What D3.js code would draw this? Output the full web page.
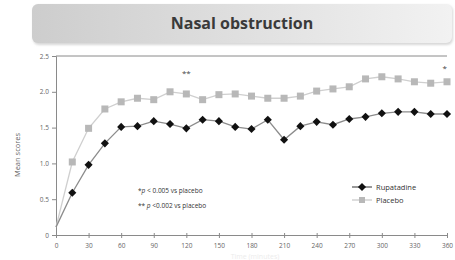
<!DOCTYPE html>
<html>
<head>
<meta charset="utf-8">
<script src="https://cdn.jsdelivr.net/npm/d3@7"></script>
<style>
  html, body { margin: 0; padding: 0; background: #fff; }
  svg { display: block; font-family: "Open Sans", "DejaVu Sans", sans-serif; }
</style>
</head>
<body>
<svg id="chart" width="455" height="260"></svg>
<script>
// time points (minutes)
const minutes = [0, 15, 30, 45, 60, 75, 90, 105, 120, 135, 150, 165, 180, 195, 210, 225, 240, 255, 270, 285, 300, 315, 330, 345, 360];
const rupatadine = [0.11, 0.59, 0.98, 1.28, 1.51, 1.52, 1.59, 1.55, 1.49, 1.61, 1.59, 1.51, 1.48, 1.61, 1.33, 1.52, 1.58, 1.54, 1.62, 1.65, 1.70, 1.72, 1.72, 1.69, 1.69];
const placebo = [0.11, 1.02, 1.49, 1.76, 1.86, 1.91, 1.89, 2.00, 1.97, 1.89, 1.96, 1.97, 1.94, 1.91, 1.91, 1.94, 2.01, 2.04, 2.07, 2.18, 2.21, 2.18, 2.14, 2.12, 2.14];
const xTicks = [0, 30, 60, 90, 120, 150, 180, 210, 240, 270, 300, 330, 360];
const yTicks = [0, 0.5, 1.0, 1.5, 2.0, 2.5];
const stars = [{ t: 120, v: 2.22, label: '**' }, { t: 358, v: 2.29, label: '*' }];

const svg = d3.select('#chart');
const margin = { top: 56, right: 8, bottom: 25, left: 56 };
const W = 455, H = 260;

// title banner
const defs = svg.append('defs');
const grad = defs.append('linearGradient').attr('id', 'banner').attr('x1', 0).attr('x2', 1);
grad.append('stop').attr('offset', 0).attr('stop-color', '#cdcdcd');
grad.append('stop').attr('offset', 1).attr('stop-color', '#f2f2f2');
const shadow = defs.append('filter').attr('id', 'soft');
shadow.append('feGaussianBlur').attr('stdDeviation', 1.2);

svg.append('rect').attr('x', 33).attr('y', 5).attr('width', 420).attr('height', 40)
  .attr('rx', 6).attr('fill', '#d8d8d8').attr('filter', 'url(#soft)');
svg.append('rect').attr('x', 32).attr('y', 4).attr('width', 420).attr('height', 39)
  .attr('rx', 6).attr('fill', 'url(#banner)');
svg.append('text').attr('x', 242).attr('y', 29).attr('text-anchor', 'middle')
  .attr('font-size', 16).attr('font-weight', 'bold').attr('fill', '#3a3a3a')
  .text('Nasal obstruction');

const x = d3.scaleLinear().domain([0, 360]).range([margin.left, W - margin.right]);
const y = d3.scaleLinear().domain([0, 2.5]).range([H - margin.bottom, margin.top]);

const xAxis = svg.append('g').attr('transform', `translate(0,${y(0)})`)
  .call(d3.axisBottom(x).tickValues(xTicks).tickSize(3).tickPadding(5));
xAxis.selectAll('.tick line').attr('y1', -2);
const yAxis = svg.append('g').attr('transform', `translate(${x(0)},0)`)
  .call(d3.axisLeft(y).tickValues(yTicks).tickSize(4).tickPadding(3)
    .tickFormat(d => d === 0 ? '0' : d3.format('.1f')(d)));

[xAxis, yAxis].forEach(a => {
  a.select('.domain').attr('stroke', '#8a8a8a');
  a.selectAll('.tick line').attr('stroke', '#8a8a8a');
  a.selectAll('.tick text').attr('fill', '#666').attr('font-size', 6.5)
    .attr('font-family', '"Open Sans", sans-serif');
});

// top frame line
svg.append('line').attr('x1', x(0)).attr('x2', x(360)).attr('y1', y(2.5)).attr('y2', y(2.5))
  .attr('stroke', '#8a8a8a');

svg.append('text').attr('transform', `translate(20,155) rotate(-90)`)
  .attr('text-anchor', 'middle').attr('font-size', 7.5).attr('fill', '#666')
  .text('Mean scores');
svg.append('text').attr('x', 255).attr('y', 259).attr('text-anchor', 'middle')
  .attr('font-size', 7).attr('fill', '#ececec').text('Time (minutes)');

const line = d3.line().x(d => x(d[0])).y(d => y(d[1]));
const rData = minutes.map((m, i) => [m, rupatadine[i]]);
const pData = minutes.map((m, i) => [m, placebo[i]]);

svg.append('path').datum(pData).attr('d', line).attr('fill', 'none')
  .attr('stroke', '#cfcfcf').attr('stroke-width', 1.3);
svg.append('path').datum(rData).attr('d', line).attr('fill', 'none')
  .attr('stroke', '#8c8c8c').attr('stroke-width', 1.3);

const diamond = d3.symbol().type(d3.symbolDiamond2).size(42);
svg.append('g').selectAll('rect').data(pData.slice(1)).join('rect')
  .attr('x', d => x(d[0]) - 3.5).attr('y', d => y(d[1]) - 3.5)
  .attr('width', 7).attr('height', 7).attr('fill', '#b8b8b8');
svg.append('g').selectAll('path').data(rData.slice(1)).join('path')
  .attr('d', diamond).attr('transform', d => `translate(${x(d[0])},${y(d[1])})`)
  .attr('fill', '#111');

svg.append('g').selectAll('text').data(stars).join('text')
  .attr('x', d => x(d.t)).attr('y', d => y(d.v)).attr('text-anchor', 'middle')
  .attr('font-size', 8).attr('fill', '#444').text(d => d.label);

// significance notes
const notes = svg.append('g').attr('font-size', 6.5).attr('fill', '#333');
const n1 = notes.append('text').attr('x', 138).attr('y', 193);
n1.append('tspan').text('*');
n1.append('tspan').attr('font-style', 'italic').text('p');
n1.append('tspan').text(' < 0.005 vs placebo');
const n2 = notes.append('text').attr('x', 138).attr('y', 208);
n2.append('tspan').text('** ');
n2.append('tspan').attr('font-style', 'italic').text('p');
n2.append('tspan').text(' <0.002 vs placebo');

// legend
const legend = svg.append('g').attr('font-size', 7.5).attr('fill', '#333');
legend.append('line').attr('x1', 352).attr('x2', 372).attr('y1', 187).attr('y2', 187).attr('stroke', '#333');
legend.append('path').attr('d', diamond).attr('transform', 'translate(362,187)').attr('fill', '#111');
legend.append('text').attr('x', 376).attr('y', 190).text('Rupatadine');
legend.append('line').attr('x1', 352).attr('x2', 372).attr('y1', 200).attr('y2', 200).attr('stroke', '#bbb');
legend.append('rect').attr('x', 359).attr('y', 197).attr('width', 6).attr('height', 6).attr('fill', '#b8b8b8');
legend.append('text').attr('x', 376).attr('y', 203).text('Placebo');
</script>
</body>
</html>
